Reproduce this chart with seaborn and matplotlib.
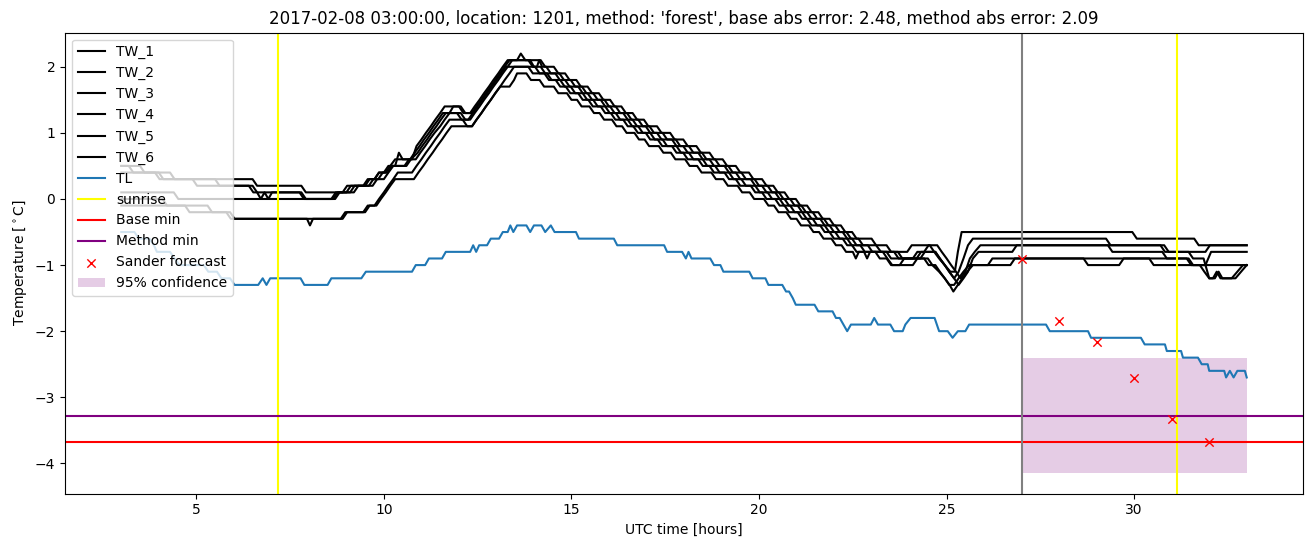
import matplotlib
matplotlib.use("Agg")
import matplotlib.pyplot as plt
import seaborn as sns
import pandas as pd

# ---------------- data ----------------
TW_1 = [(3.0,0.5),(3.5,0.5),(3.62,0.4),(4.3,0.4),(4.42,0.3),(6.5,0.3),(6.62,0.2),(7.8,0.2),(7.92,0.1),(8.9,0.1),(9.02,0.2),
        (9.5,0.2),(9.62,0.3),(9.75,0.3),(9.87,0.4),(10.0,0.4),(10.12,0.5),(10.3,0.5),(10.4,0.7),(10.5,0.6),(10.75,0.6),(10.87,0.8),
        (11.0,0.9),(11.12,1.0),(11.25,1.1),(11.37,1.2),(11.5,1.3),(11.62,1.4),(12.0,1.4),(12.12,1.3),(12.3,1.3),(12.42,1.4),(12.55,1.5),
        (12.67,1.6),(12.8,1.7),(12.92,1.8),(13.05,1.9),(13.17,2.0),(13.3,2.1),(13.55,2.1),(13.65,2.2),(13.77,2.1),(14.18,2.1),
        (14.3,2.0),(14.53,2.0),(14.65,1.9),(14.83,1.9),(14.95,1.8),(15.13,1.8),(15.25,1.7),(15.43,1.7),(15.55,1.6),(15.73,1.6),
        (15.85,1.5),(16.03,1.5),(16.15,1.4),(16.33,1.4),(16.45,1.3),(16.63,1.3),(16.75,1.2),(16.93,1.2),(17.05,1.1),(17.28,1.1),
        (17.4,1.0),(17.63,1.0),(17.75,0.9),(17.98,0.9),(18.1,0.8),(18.33,0.8),(18.45,0.7),(18.68,0.7),(18.8,0.6),(19.03,0.6),
        (19.15,0.5),(19.38,0.5),(19.5,0.4),(19.73,0.4),(19.85,0.3),(20.08,0.3),(20.2,0.2),(20.38,0.2),(20.5,0.1),(20.68,0.1),
        (20.8,0.0),(20.98,0.0),(21.1,-0.1),(21.28,-0.1),(21.4,-0.2),(21.58,-0.2),(21.7,-0.3),(21.88,-0.3),(22.0,-0.4),(22.18,-0.4),
        (22.3,-0.5),(22.48,-0.5),(22.6,-0.6),(23.0,-0.6),(23.12,-0.7),(23.25,-0.8),(23.95,-0.8),(24.07,-0.7),(24.55,-0.7),
        (24.67,-0.8),(24.8,-0.9),(24.95,-1.0),(25.1,-1.1),(25.22,-1.1),(25.3,-0.8),(25.4,-0.5),(29.95,-0.5),(30.07,-0.6),
        (31.6,-0.6),(31.72,-0.7),(33.0,-0.7)]

TW_2 = [(3.0,0.5),(3.2,0.5),(3.32,0.4),(4.0,0.4),(4.12,0.3),(4.9,0.3),(5.02,0.2),(6.5,0.2),(6.62,0.1),(6.72,0.0),(6.82,0.1),
        (6.92,0.0),(7.02,0.1),(7.8,0.1),(7.92,0.0),(8.65,0.0),(8.77,0.1),(9.1,0.1),(9.22,0.2),(9.6,0.2),(9.72,0.3),(9.85,0.3),
        (9.97,0.4),(10.1,0.4),(10.22,0.5),(10.6,0.5),(10.72,0.6),(10.9,0.7),(11.02,0.8),(11.15,0.9),(11.27,1.0),(11.4,1.1),
        (11.52,1.2),(11.65,1.3),(12.05,1.3),(12.17,1.2),(12.3,1.2),(12.42,1.3),(12.55,1.4),(12.67,1.5),(12.8,1.6),(12.92,1.7),
        (13.05,1.8),(13.17,1.9),(13.3,2.0),(13.42,2.1),(13.9,2.1),(14.0,2.0),(14.08,2.0),(14.14,2.1),(14.22,2.0),
        (14.33,2.0),(14.45,1.9),(14.68,1.9),(14.8,1.8),(14.98,1.8),(15.1,1.7),(15.28,1.7),(15.4,1.6),(15.58,1.6),(15.7,1.5),
        (15.88,1.5),(16.0,1.4),(16.18,1.4),(16.3,1.3),(16.48,1.3),(16.6,1.2),(16.78,1.2),(16.9,1.1),(17.08,1.1),(17.2,1.0),
        (17.43,1.0),(17.55,0.9),(17.78,0.9),(17.9,0.8),(18.13,0.8),(18.25,0.7),(18.48,0.7),(18.6,0.6),(18.83,0.6),(18.95,0.5),
        (19.18,0.5),(19.3,0.4),(19.53,0.4),(19.65,0.3),(19.88,0.3),(20.0,0.2),(20.23,0.2),(20.35,0.1),(20.53,0.1),(20.65,0.0),
        (20.83,0.0),(20.95,-0.1),(21.13,-0.1),(21.25,-0.2),(21.43,-0.2),(21.55,-0.3),(21.73,-0.3),(21.85,-0.4),(22.03,-0.4),
        (22.15,-0.5),(22.33,-0.5),(22.45,-0.6),(22.65,-0.6),(22.77,-0.7),(23.4,-0.7),(23.52,-0.8),(23.7,-0.8),(23.82,-0.9),
        (24.2,-0.9),(24.32,-0.8),(24.7,-0.8),(24.82,-0.9),(24.95,-1.0),(25.07,-1.1),(25.2,-1.2),(25.32,-1.1),(25.45,-0.9),
        (25.57,-0.7),(25.7,-0.6),(29.25,-0.6),(29.37,-0.7),(30.8,-0.7),(30.92,-0.8),(31.9,-0.8),(32.02,-0.7),(33.0,-0.7)]

TW_3 = [(3.0,0.4),(3.9,0.4),(4.02,0.3),(5.5,0.3),(5.62,0.2),(6.4,0.2),(6.52,0.1),(7.75,0.1),(7.87,0.0),(8.7,0.0),(8.82,0.1),
        (9.2,0.1),(9.32,0.2),(9.7,0.2),(9.82,0.3),(10.0,0.3),(10.12,0.4),(10.25,0.5),(10.55,0.5),(10.67,0.6),(10.85,0.6),
        (10.97,0.7),(11.1,0.8),(11.22,0.9),(11.35,1.0),(11.5,1.1),(11.62,1.2),(11.75,1.3),(11.85,1.4),(12.05,1.4),(12.17,1.3),
        (12.35,1.3),(12.47,1.4),(12.6,1.5),(12.72,1.6),(12.85,1.7),(12.97,1.8),(13.1,1.9),(13.22,2.0),(13.35,2.1),(13.85,2.1),
        (13.97,2.0),(14.18,2.0),(14.3,1.9),(14.57,1.9),(14.69,1.8),(14.83,1.8),(14.95,1.7),(15.18,1.7),(15.3,1.6),(15.43,1.6),
        (15.55,1.5),(15.78,1.5),(15.9,1.4),(16.03,1.4),(16.15,1.3),(16.38,1.3),(16.5,1.2),(16.63,1.2),(16.75,1.1),(16.98,1.1),
        (17.1,1.0),(17.28,1.0),(17.4,0.9),(17.68,0.9),(17.8,0.8),(17.98,0.8),(18.1,0.7),(18.38,0.7),(18.5,0.6),(18.68,0.6),
        (18.8,0.5),(19.08,0.5),(19.2,0.4),(19.38,0.4),(19.5,0.3),(19.78,0.3),(19.9,0.2),(20.08,0.2),(20.2,0.1),(20.43,0.1),
        (20.55,0.0),(20.68,0.0),(20.8,-0.1),(21.03,-0.1),(21.15,-0.2),(21.28,-0.2),(21.4,-0.3),(21.63,-0.3),(21.75,-0.4),
        (21.88,-0.4),(22.0,-0.5),(22.23,-0.5),(22.35,-0.6),(22.48,-0.6),(22.6,-0.7),(22.9,-0.7),(23.02,-0.8),(23.6,-0.8),
        (23.72,-0.9),(24.1,-0.9),(24.22,-0.8),(24.4,-0.8),(24.52,-0.7),(24.75,-0.7),(24.87,-0.8),(25.0,-0.9),(25.12,-1.0),
        (25.25,-1.1),(25.37,-1.2),(25.5,-1.1),(25.62,-0.9),(25.75,-0.8),(25.9,-0.7),(29.3,-0.7),(29.42,-0.8),(30.75,-0.8),
        (30.87,-0.9),(31.4,-0.9),(31.52,-1.0),(31.9,-1.0),(32.05,-0.8),(33.0,-0.8)]

TW_4 = [(3.0,0.1),(4.4,0.1),(4.52,0.0),(8.6,0.0),(8.72,0.1),(9.0,0.1),(9.12,0.2),(9.45,0.2),(9.57,0.3),(9.75,0.3),(9.87,0.4),
        (10.05,0.4),(10.17,0.5),(10.3,0.6),(10.7,0.6),(10.82,0.7),(10.95,0.8),(11.07,0.9),(11.2,1.0),(11.32,1.1),(11.45,1.2),
        (11.57,1.3),(11.95,1.3),(12.07,1.2),(12.25,1.2),(12.37,1.3),(12.5,1.4),(12.62,1.5),(12.75,1.6),(12.87,1.7),(13.0,1.8),
        (13.12,1.9),(13.25,2.0),(13.85,2.0),(13.97,1.9),(14.28,1.9),(14.4,1.8),(14.58,1.8),(14.7,1.7),(14.85,1.7),(14.97,1.6),
        (15.18,1.6),(15.3,1.5),(15.45,1.5),(15.57,1.4),(15.78,1.4),(15.9,1.3),(16.05,1.3),(16.17,1.2),(16.38,1.2),(16.5,1.1),
        (16.65,1.1),(16.77,1.0),(16.98,1.0),(17.1,0.9),(17.3,0.9),(17.42,0.8),(17.68,0.8),(17.8,0.7),(17.98,0.7),(18.1,0.6),
        (18.38,0.6),(18.5,0.5),(18.68,0.5),(18.8,0.4),(19.08,0.4),(19.2,0.3),(19.38,0.3),(19.5,0.2),(19.78,0.2),(19.9,0.1),
        (20.08,0.1),(20.2,0.0),(20.43,0.0),(20.55,-0.1),(20.68,-0.1),(20.8,-0.2),(21.03,-0.2),(21.15,-0.3),(21.28,-0.3),
        (21.4,-0.4),(21.63,-0.4),(21.75,-0.5),(21.88,-0.5),(22.0,-0.6),(22.23,-0.6),(22.35,-0.7),(22.48,-0.7),(22.6,-0.8),
        (22.8,-0.8),(22.88,-0.9),(22.96,-0.8),(23.4,-0.8),(23.52,-0.9),(24.3,-0.9),(24.42,-0.8),(24.7,-0.8),(24.82,-0.9),
        (24.95,-1.0),(25.07,-1.1),(25.2,-1.2),(25.32,-1.3),(25.45,-1.2),(25.57,-1.1),(25.7,-0.9),(25.85,-0.8),(26.75,-0.8),
        (26.87,-0.7),(30.7,-0.7),(30.82,-0.8),(31.45,-0.8),(31.57,-0.9),(31.85,-0.9),(32.0,-1.2),(32.1,-1.2),(32.2,-1.1),
        (32.3,-1.2),(32.6,-1.2),(32.75,-1.1),(32.9,-1.0),(33.0,-1.0)]

TW_5 = [(3.0,-0.1),(4.7,-0.1),(4.82,-0.2),(5.8,-0.2),(5.92,-0.3),(7.95,-0.3),(8.03,-0.4),(8.11,-0.3),(8.85,-0.3),(8.97,-0.2),
        (9.45,-0.2),(9.57,-0.1),(9.75,-0.1),(9.87,0.0),(10.0,0.1),(10.12,0.2),(10.25,0.3),(10.37,0.4),(10.75,0.4),(10.87,0.5),
        (11.0,0.6),(11.12,0.7),(11.25,0.8),(11.37,0.9),(11.5,1.0),(11.62,1.1),(11.75,1.2),(12.1,1.2),(12.22,1.1),(12.35,1.1),
        (12.47,1.2),(12.6,1.3),(12.72,1.4),(12.85,1.5),(12.97,1.6),(13.1,1.7),(13.22,1.8),(13.35,1.9),(13.47,2.0),(13.9,2.0),
        (14.03,2.0),(14.15,1.9),(14.35,1.9),(14.47,1.8),(14.7,1.8),(14.82,1.7),(14.98,1.7),(15.1,1.6),(15.3,1.6),(15.42,1.5),
        (15.58,1.5),(15.7,1.4),(15.9,1.4),(16.02,1.3),(16.18,1.3),(16.3,1.2),(16.5,1.2),(16.62,1.1),(16.78,1.1),(16.9,1.0),
        (17.1,1.0),(17.22,0.9),(17.43,0.9),(17.55,0.8),(17.8,0.8),(17.92,0.7),(18.13,0.7),(18.25,0.6),(18.5,0.6),(18.62,0.5),
        (18.83,0.5),(18.95,0.4),(19.2,0.4),(19.32,0.3),(19.53,0.3),(19.65,0.2),(19.9,0.2),(20.02,0.1),(20.23,0.1),(20.35,0.0),
        (20.55,0.0),(20.67,-0.1),(20.83,-0.1),(20.95,-0.2),(21.15,-0.2),(21.27,-0.3),(21.43,-0.3),(21.55,-0.4),(21.75,-0.4),
        (21.87,-0.5),(22.03,-0.5),(22.15,-0.6),(22.35,-0.6),(22.47,-0.7),(22.7,-0.7),(22.82,-0.8),(23.3,-0.8),(23.42,-0.9),
        (23.55,-1.0),(23.75,-1.0),(23.87,-0.9),(24.5,-0.9),(24.62,-1.0),(24.8,-1.1),(24.95,-1.2),(25.08,-1.3),(25.18,-1.4),
        (25.3,-1.3),(25.42,-1.2),(25.55,-1.1),(25.7,-1.0),(26.1,-1.0),(26.22,-0.9),(28.65,-0.9),(28.77,-1.0),(29.6,-1.0),
        (29.72,-0.9),(30.4,-0.9),(30.52,-1.0),(31.75,-1.0),(31.87,-1.1),(32.0,-1.2),(32.15,-1.2),(32.25,-1.1),(32.35,-1.2),
        (32.7,-1.2),(32.85,-1.1),(33.0,-1.0)]

TW_6 = [(3.0,0.0),(4.1,0.0),(4.22,-0.1),(5.3,-0.1),(5.42,-0.2),(5.9,-0.2),(6.02,-0.3),(8.9,-0.3),(9.02,-0.2),(9.5,-0.2),
        (9.62,-0.1),(9.8,-0.1),(9.92,0.0),(10.05,0.1),(10.17,0.2),(10.3,0.3),(10.8,0.3),(10.92,0.4),(11.05,0.5),(11.17,0.6),
        (11.3,0.7),(11.42,0.8),(11.55,0.9),(11.67,1.0),(11.8,1.1),(12.35,1.1),(12.47,1.2),(12.6,1.3),(12.72,1.4),(12.85,1.5),
        (12.97,1.6),(13.1,1.7),(13.35,1.7),(13.47,1.8),(13.55,1.9),(13.8,1.9),(13.92,1.8),(14.15,1.8),(14.27,1.7),
        (14.53,1.7),(14.65,1.6),(14.88,1.6),(15.0,1.5),(15.15,1.5),(15.27,1.4),(15.48,1.4),(15.6,1.3),(15.75,1.3),(15.87,1.2),
        (16.08,1.2),(16.2,1.1),(16.35,1.1),(16.47,1.0),(16.68,1.0),(16.8,0.9),(16.95,0.9),(17.07,0.8),(17.33,0.8),(17.45,0.7),
        (17.65,0.7),(17.77,0.6),(18.03,0.6),(18.15,0.5),(18.35,0.5),(18.47,0.4),(18.73,0.4),(18.85,0.3),(19.05,0.3),(19.17,0.2),
        (19.43,0.2),(19.55,0.1),(19.75,0.1),(19.87,0.0),(20.13,0.0),(20.25,-0.1),(20.4,-0.1),(20.52,-0.2),(20.73,-0.2),
        (20.85,-0.3),(21.0,-0.3),(21.12,-0.4),(21.33,-0.4),(21.45,-0.5),(21.6,-0.5),(21.72,-0.6),(21.93,-0.6),(22.05,-0.7),
        (22.2,-0.7),(22.32,-0.8),(22.5,-0.8),(22.58,-0.9),(22.66,-0.8),(23.1,-0.8),(23.22,-0.9),(23.4,-0.9),(23.52,-1.0),
        (24.1,-1.0),(24.22,-0.9),(24.4,-0.9),(24.52,-1.0),(24.7,-1.0),(24.82,-1.1),(24.95,-1.2),(25.07,-1.3),(25.2,-1.3),
        (25.32,-1.2),(25.45,-1.1),(25.6,-1.0),(26.7,-1.0),(26.82,-0.9),(31.45,-0.9),(31.57,-1.0),(33.0,-1.0)]

TL = [(3.0,-0.5),(3.35,-0.5),(3.47,-0.6),(3.75,-0.6),(3.87,-0.7),(3.95,-0.8),(4.3,-0.8),(4.42,-0.9),(4.55,-1.0),(5.2,-1.0),
      (5.32,-1.1),(5.55,-1.1),(5.67,-1.2),(5.9,-1.2),(6.02,-1.3),(6.65,-1.3),(6.77,-1.2),(6.87,-1.3),(6.97,-1.2),(7.78,-1.2),
      (7.88,-1.3),(8.5,-1.3),(8.6,-1.2),(9.4,-1.2),(9.52,-1.1),(10.75,-1.1),(10.85,-1.0),(11.1,-1.0),(11.2,-0.9),(11.55,-0.9),
      (11.65,-0.8),(12.3,-0.8),(12.38,-0.7),(12.46,-0.8),(12.54,-0.7),(12.75,-0.7),(12.85,-0.6),(13.07,-0.6),(13.17,-0.5),
      (13.3,-0.5),(13.37,-0.4),(13.45,-0.5),(13.55,-0.4),(13.8,-0.4),(13.9,-0.5),(14.0,-0.4),(14.2,-0.4),(14.3,-0.5),
      (14.45,-0.4),(14.55,-0.5),(15.12,-0.5),(15.2,-0.6),(16.13,-0.6),(16.22,-0.7),(17.47,-0.7),(17.55,-0.8),(17.95,-0.8),
      (18.05,-0.9),(18.12,-0.8),(18.2,-0.9),(18.7,-0.9),(18.8,-1.0),(18.97,-1.0),(19.05,-1.1),(19.74,-1.1),(19.83,-1.2),
      (20.17,-1.2),(20.25,-1.3),(20.62,-1.3),(20.72,-1.4),(20.8,-1.4),(20.9,-1.5),(20.98,-1.6),(21.48,-1.6),(21.58,-1.7),
      (21.96,-1.7),(22.05,-1.8),(22.15,-1.8),(22.25,-1.9),(22.35,-2.0),(22.45,-1.9),(22.98,-1.9),(23.07,-1.8),(23.17,-1.9),
      (23.5,-1.9),(23.6,-2.0),(23.83,-2.0),(23.9,-1.9),(24.04,-1.8),(24.68,-1.8),(24.8,-2.0),(25.03,-2.0),(25.16,-2.1),
      (25.3,-2.0),(25.5,-2.0),(25.6,-1.9),(27.65,-1.9),(27.75,-2.0),(28.77,-2.0),(28.85,-2.1),(30.18,-2.1),(30.28,-2.2),
      (30.82,-2.2),(30.87,-2.3),(31.25,-2.3),(31.3,-2.4),(31.7,-2.4),(31.8,-2.5),(31.96,-2.5),(32.0,-2.6),(32.4,-2.6),
      (32.45,-2.7),(32.55,-2.6),(32.65,-2.7),(32.75,-2.6),(32.95,-2.6),(33.0,-2.7)]

sunrise_hours = [7.17, 31.13]
forecast_start = 27.0
base_min = -3.68
method_min = -3.29
forecast_hours = [27, 28, 29, 30, 31, 32]
forecast_values = [-0.91, -1.85, -2.17, -2.71, -3.33, -3.68]
conf_hours = [27, 33]
conf_low = [-4.14, -4.14]
conf_high = [-2.40, -2.40]

title = ("2017-02-08 03:00:00, location: 1201, method: 'forest', "
         "base abs error: 2.48, method abs error: 2.09")

# ---------------- plot ----------------
fig = plt.figure(figsize=(13.13, 5.47), dpi=100)
ax = fig.add_axes([65/1313, 1 - 493.6/547, (1303-65)/1313, (493.6-32.6)/547])

tw_series = {"TW_1": TW_1, "TW_2": TW_2, "TW_3": TW_3, "TW_4": TW_4, "TW_5": TW_5, "TW_6": TW_6}
for name, pts in tw_series.items():
    df = pd.DataFrame(pts, columns=["t", "v"])
    sns.lineplot(data=df, x="t", y="v", color="black", label=name, ax=ax,
                 estimator=None, sort=False, linewidth=1.5)

df_tl = pd.DataFrame(TL, columns=["t", "v"])
sns.lineplot(data=df_tl, x="t", y="v", color="#1f77b4", label="TL", ax=ax,
             estimator=None, sort=False, linewidth=1.5)

ax.axvline(sunrise_hours[0], color="yellow", label="sunrise")
ax.axvline(sunrise_hours[1], color="yellow")
ax.axhline(base_min, color="red", label="Base min")
ax.axhline(method_min, color="purple", label="Method min")
ax.axvline(forecast_start, color="gray")

sns.scatterplot(x=forecast_hours, y=forecast_values, marker="x", color="red",
                s=36, linewidth=1.0, label="Sander forecast", ax=ax, zorder=3)
ax.fill_between(conf_hours, conf_low, conf_high, color="purple", alpha=0.2,
                linewidth=0, label="95% confidence")

ax.set_title(title, fontsize=12)
ax.set_xlabel("UTC time [hours]")
ax.set_ylabel(r"Temperature [$^\circ$C]")
ax.legend(loc="upper left")

fig.savefig("out.png", dpi=100)
